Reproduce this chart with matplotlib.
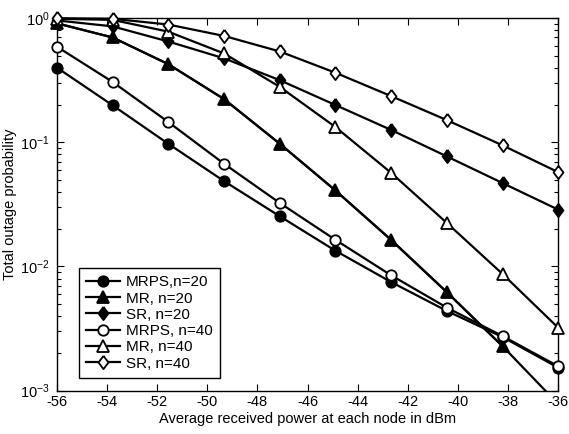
import numpy as np
import matplotlib
matplotlib.use('Agg')
import matplotlib.pyplot as plt
from matplotlib.ticker import LogLocator, NullFormatter

plt.rcParams['font.family'] = ['Liberation Sans', 'DejaVu Sans']
plt.rcParams['mathtext.fontset'] = 'custom'
plt.rcParams['mathtext.rm'] = 'Liberation Sans'
plt.rcParams['mathtext.it'] = 'Liberation Sans:italic'
plt.rcParams['mathtext.bf'] = 'Liberation Sans:bold'
plt.rcParams['axes.unicode_minus'] = False

# received power (dBm), 10 points from -56 to -36
power = [-56, -53.78, -51.56, -49.33, -47.11, -44.89, -42.67, -40.44, -38.22, -36]

mrps_20 = [0.40, 0.199, 0.0975, 0.0487, 0.0254, 0.0134, 0.0075, 0.00438, 0.0027, 0.00153]
mr_20 = [0.91, 0.70, 0.427, 0.223, 0.0975, 0.041, 0.0164, 0.0062, 0.00228, 0.00078]
sr_20 = [0.96, 0.86, 0.65, 0.475, 0.317, 0.20, 0.126, 0.077, 0.047, 0.0287]
mrps_40 = [0.59, 0.307, 0.146, 0.0672, 0.0325, 0.0164, 0.0085, 0.00466, 0.00275, 0.00157]
mr_40 = [0.99, 0.97, 0.78, 0.52, 0.28, 0.133, 0.0569, 0.0224, 0.0087, 0.00321]
sr_40 = [1.0, 0.99, 0.89, 0.72, 0.54, 0.364, 0.236, 0.151, 0.0946, 0.0575]

fig = plt.figure(figsize=(5.69, 4.34), dpi=100)
ax = fig.add_axes([0.1, 0.1, 0.881, 0.858])

# MATLAB-like diamond: taller than wide
diamond = [(0, 1), (0.75, 0), (0, -1), (-0.75, 0), (0, 1)]

lw = 1.6
common = dict(color='black', lw=lw, mew=1.3, clip_on=False, zorder=3)

ax.plot(power, mrps_20, marker='o', ms=7.5, mfc='black', label='MRPS,n=20', **common)
# MR n=20 line runs off the bottom of the axes: line clipped, markers not
ax.plot(power, mr_20, color='black', lw=lw, zorder=3)
ax.plot(power[:-1], mr_20[:-1], marker='^', ms=8, mfc='black', label='MR, n=20', **common)
ax.plot(power, sr_20, marker=diamond, ms=9.5, mfc='black', label='SR, n=20', **common)
ax.plot(power, mrps_40, marker='o', ms=7.5, mfc='white', label='MRPS, n=40', **common)
ax.plot(power, mr_40, marker='^', ms=8, mfc='white', label='MR, n=40', **common)
ax.plot(power, sr_40, marker=diamond, ms=9.5, mfc='white', label='SR, n=40', **common)

ax.set_yscale('log')
ax.set_xlim(-56, -36)
ax.set_ylim(1e-3, 1)
ax.set_xticks(range(-56, -35, 2))
ax.yaxis.set_major_locator(LogLocator(base=10, numticks=10))
ax.yaxis.set_minor_locator(LogLocator(base=10, subs=np.arange(2, 10), numticks=10))
ax.yaxis.set_minor_formatter(NullFormatter())

ax.tick_params(which='both', direction='in', top=True, right=True, labelsize=10.5)
ax.tick_params(which='major', length=5, width=0.8)
ax.tick_params(which='minor', length=3, width=0.8)
ax.tick_params(axis='y', pad=5)
for s in ax.spines.values():
    s.set_linewidth(1.0)

ax.set_xlabel('Average received power at each node in dBm', fontsize=10.5, labelpad=2)
ax.set_ylabel('Total outage probability', fontsize=10.5)
ax.yaxis.set_label_coords(-0.08, 0.5)

leg = ax.legend(loc='lower left', bbox_to_anchor=(0.045, 0.035), fontsize=11,
                frameon=True, fancybox=False, edgecolor='black', framealpha=1,
                labelspacing=0.15, handlelength=2.2, handletextpad=0.4,
                borderpad=0.45, borderaxespad=0)
leg.get_frame().set_linewidth(1.0)

fig.savefig('out.png', dpi=100)
